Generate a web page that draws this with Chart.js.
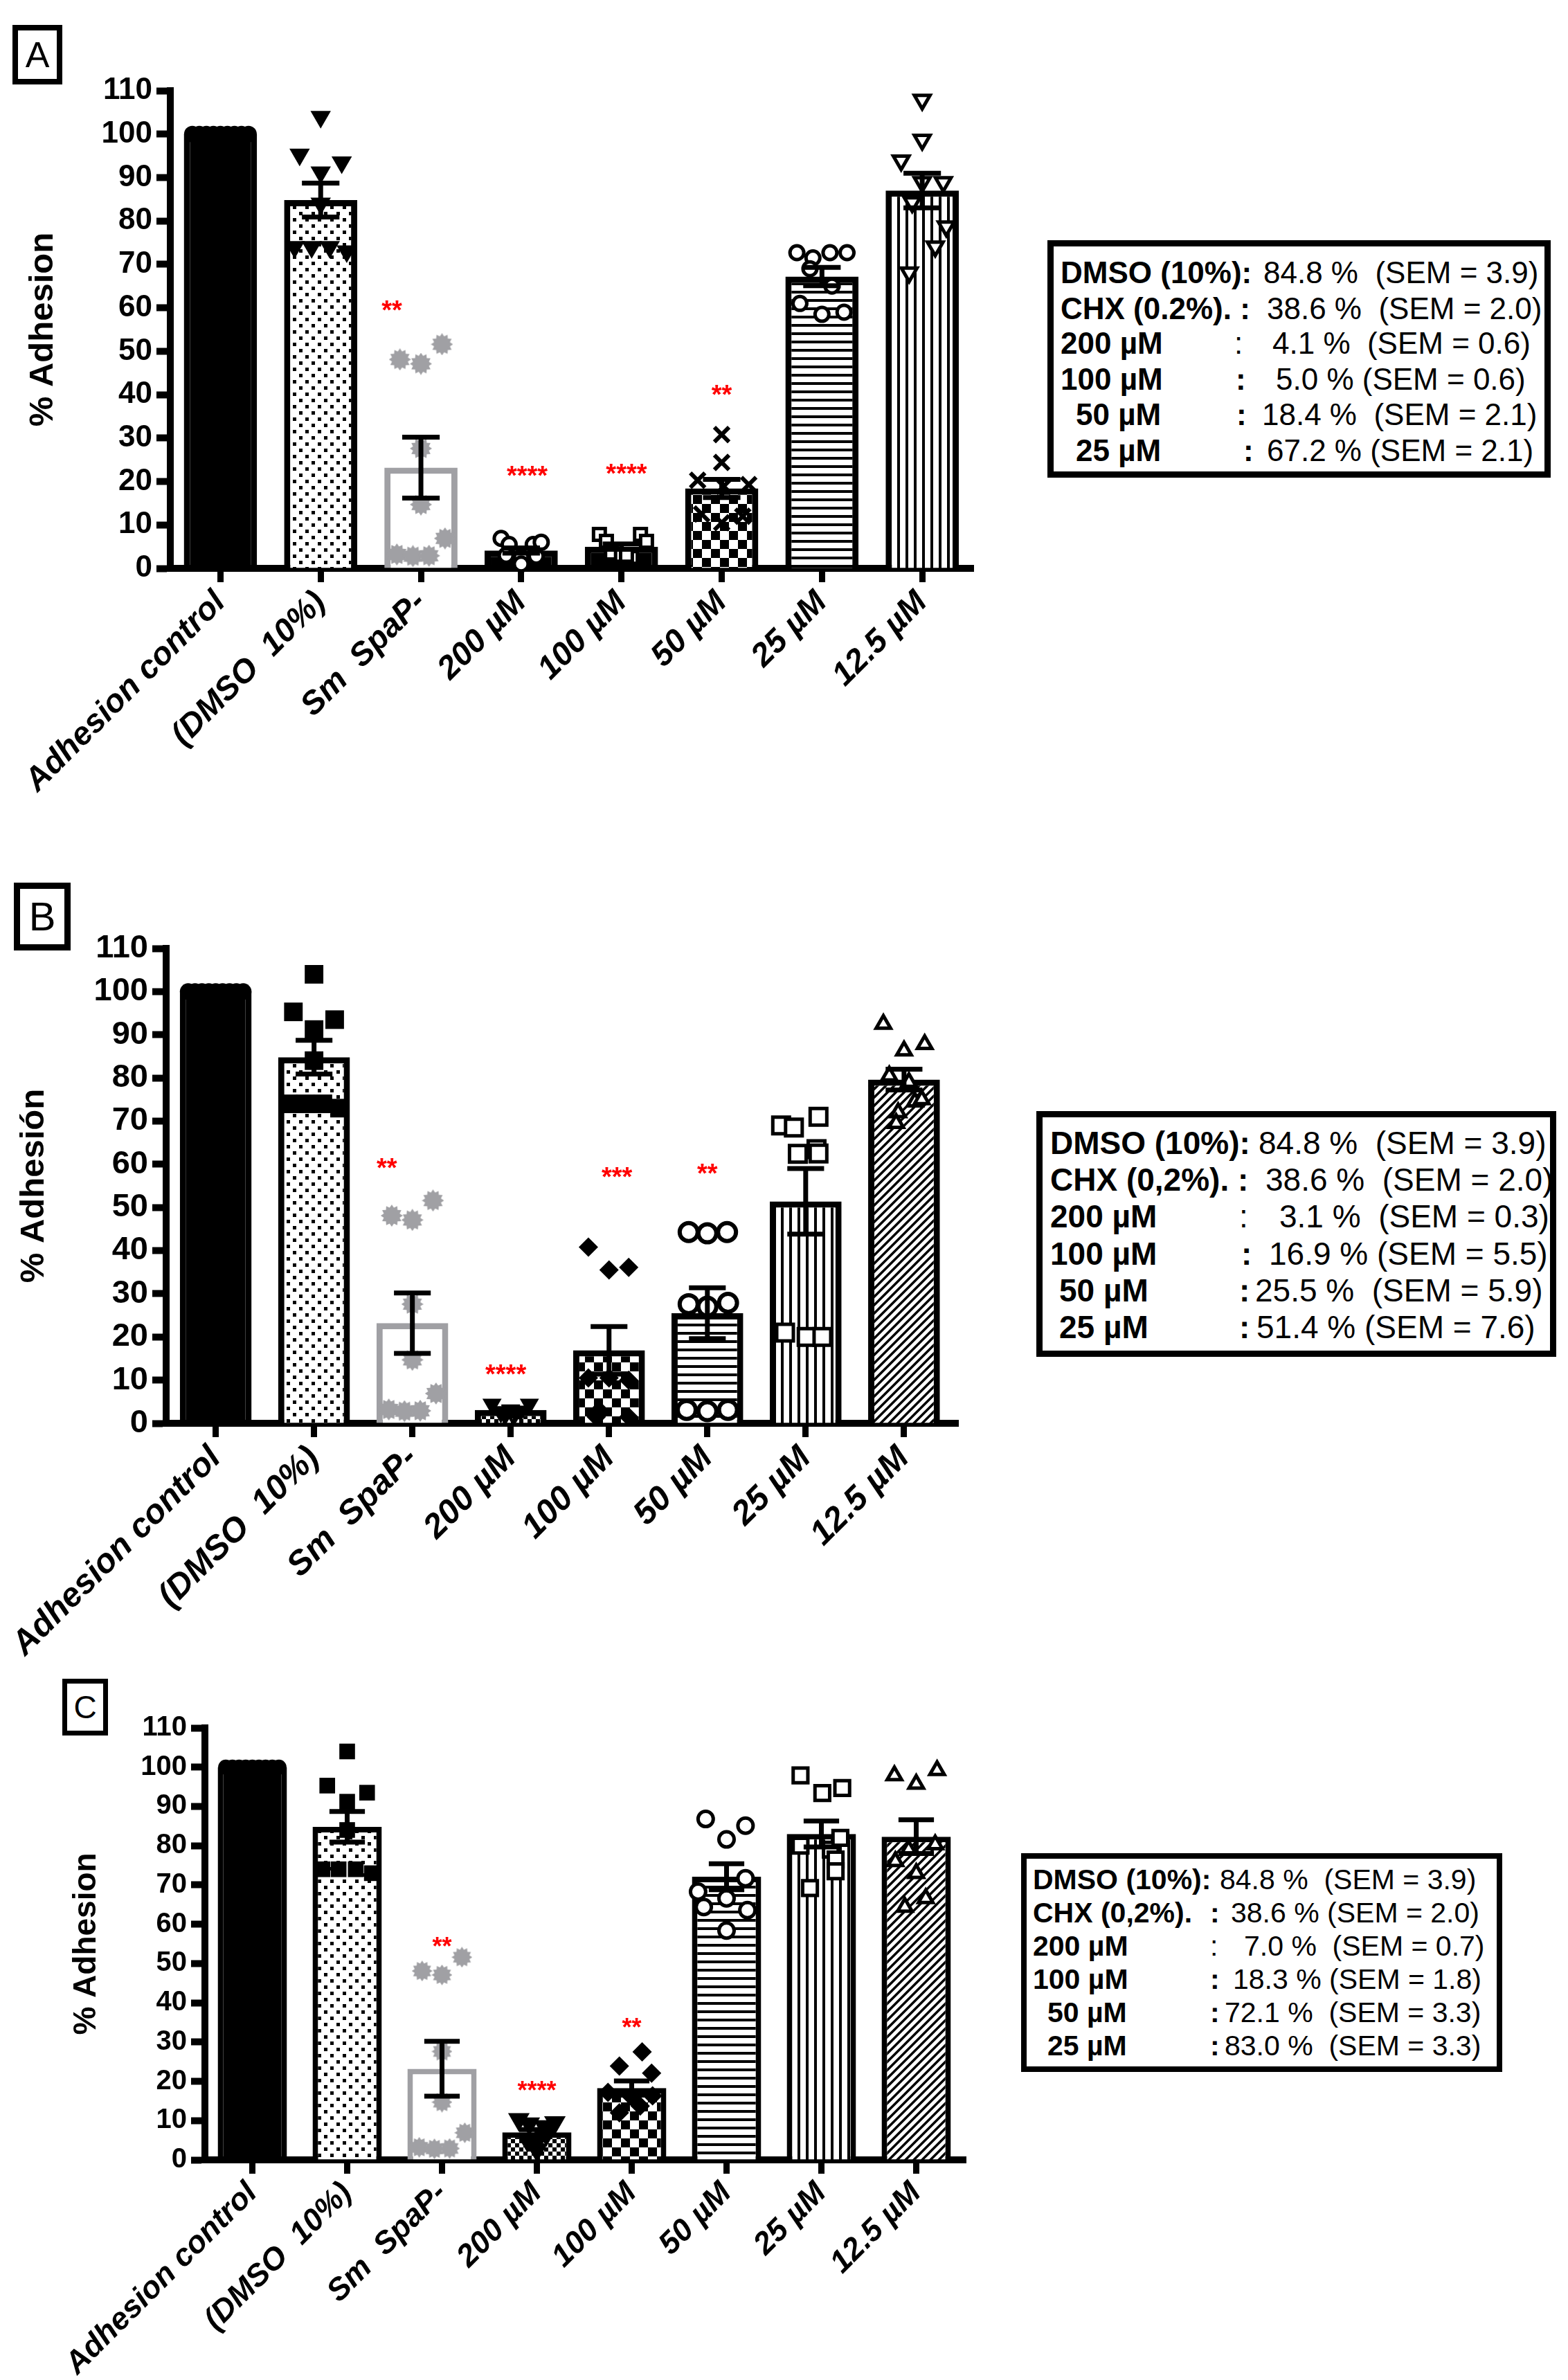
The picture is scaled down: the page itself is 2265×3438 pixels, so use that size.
<!DOCTYPE html>
<html>
<head>
<meta charset="utf-8">
<script src="https://cdn.jsdelivr.net/npm/chart.js@4.4.1/dist/chart.umd.min.js"></script>
<style>
  body { margin:0; background:#fff; width:2265px; height:3438px; position:relative; overflow:hidden;
         font-family:'Liberation Sans', Arial, sans-serif; color:#000; }
  canvas { position:absolute; left:0; }
  .tag { position:absolute; box-sizing:border-box; border:8px solid #000; display:flex;
         align-items:center; justify-content:center; line-height:1; }
  .box { position:absolute; box-sizing:border-box; border:9px solid #000; background:#fff; }
  .box span { position:absolute; white-space:pre; line-height:1; }
  .box .b { font-weight:bold; }
</style>
</head>
<body>

<div class="tag" style="left:18px;top:36px;width:72px;height:86px;font-size:52px">A</div>
<div class="tag" style="left:20px;top:1275px;width:82px;height:98px;border-width:9px;font-size:58px">B</div>
<div class="tag" style="left:90px;top:2425px;width:66px;height:82px;border-width:7px;font-size:46px">C</div>

<canvas id="chartA" width="1460" height="1170" style="top:0px"></canvas>
<canvas id="chartB" width="1460" height="1180" style="top:1240px"></canvas>
<canvas id="chartC" width="1460" height="1038" style="top:2400px"></canvas>

<div class="box" style="left:1513px;top:347px;width:727px;height:343px;font-size:44px">
  <span class="b" style="left:10px;top:16px">DMSO (10%):</span><span style="left:303px;top:16px">84.8 %  (SEM = 3.9)</span>
  <span class="b" style="left:10px;top:68px">CHX (0.2%). :</span><span style="left:308px;top:68px">38.6 %  (SEM = 2.0)</span>
  <span class="b" style="left:10px;top:118px">200 µM</span><span style="left:261px;top:118px">:</span><span style="left:316px;top:118px">4.1 %  (SEM = 0.6)</span>
  <span class="b" style="left:10px;top:170px">100 µM</span><span class="b" style="left:263px;top:170px">:</span><span style="left:321px;top:170px">5.0 % (SEM = 0.6)</span>
  <span class="b" style="left:32px;top:221px">50 µM</span><span class="b" style="left:264px;top:221px">:</span><span style="left:301px;top:221px">18.4 %  (SEM = 2.1)</span>
  <span class="b" style="left:32px;top:273px">25 µM</span><span class="b" style="left:274px;top:273px">:</span><span style="left:308px;top:273px">67.2 % (SEM = 2.1)</span>
</div>

<div class="box" style="left:1497px;top:1605px;width:751px;height:355px;font-size:46px">
  <span class="b" style="left:11px;top:14px">DMSO (10%):</span><span style="left:312px;top:14px">84.8 %  (SEM = 3.9)</span>
  <span class="b" style="left:11px;top:67px">CHX (0,2%). :</span><span style="left:322px;top:67px">38.6 %  (SEM = 2.0)</span>
  <span class="b" style="left:11px;top:120px">200 µM</span><span style="left:284px;top:120px">:</span><span style="left:342px;top:120px">3.1 %  (SEM = 0.3)</span>
  <span class="b" style="left:11px;top:174px">100 µM</span><span class="b" style="left:287px;top:174px">:</span><span style="left:327px;top:174px">16.9 % (SEM = 5.5)</span>
  <span class="b" style="left:24px;top:227px">50 µM</span><span class="b" style="left:284px;top:227px">:</span><span style="left:307px;top:227px">25.5 %  (SEM = 5.9)</span>
  <span class="b" style="left:24px;top:280px">25 µM</span><span class="b" style="left:284px;top:280px">:</span><span style="left:309px;top:280px">51.4 % (SEM = 7.6)</span>
</div>

<div class="box" style="left:1475px;top:2677px;width:695px;height:316px;border-width:8px;font-size:41px">
  <span class="b" style="left:9px;top:10px">DMSO (10%):</span><span style="left:279px;top:10px">84.8 %  (SEM = 3.9)</span>
  <span class="b" style="left:9px;top:58px">CHX (0,2%).</span><span class="b" style="left:265px;top:58px">:</span><span style="left:295px;top:58px">38.6 % (SEM = 2.0)</span>
  <span class="b" style="left:9px;top:106px">200 µM</span><span style="left:265px;top:106px">:</span><span style="left:314px;top:106px">7.0 %  (SEM = 0.7)</span>
  <span class="b" style="left:9px;top:154px">100 µM</span><span class="b" style="left:265px;top:154px">:</span><span style="left:298px;top:154px">18.3 % (SEM = 1.8)</span>
  <span class="b" style="left:30px;top:202px">50 µM</span><span class="b" style="left:265px;top:202px">:</span><span style="left:286px;top:202px">72.1 %  (SEM = 3.3)</span>
  <span class="b" style="left:30px;top:250px">25 µM</span><span class="b" style="left:265px;top:250px">:</span><span style="left:286px;top:250px">83.0 %  (SEM = 3.3)</span>
</div>

<script>
// ---- data ----
const categories = ['Adhesion control', '(DMSO  10%)', 'Sm  SpaP-', '200 µM', '100 µM', '50 µM', '25 µM', '12.5 µM'];
const yTicks = [0, 10, 20, 30, 40, 50, 60, 70, 80, 90, 100, 110];

// groups shared by the three panels
const ctrlPts = [100, 100, 100, 100, 100, 100, 100, 100, 100];
const ctrlSpread = [-0.28, -0.21, -0.14, -0.07, 0, 0.07, 0.14, 0.21, 0.28];
const dmsoPts = [104, 95.3, 93.5, 91.2, 84, 74, 74, 74, 73];
const dmsoSpread = [0, -0.21, 0.21, 0, 0, -0.26, -0.09, 0.09, 0.26];
const spapPts = [48.1, 47.1, 51.6, 27.6, 14.7, 6.9, 3.2, 2.8, 2.9];
const spapSpread = [-0.21, 0, 0.21, 0, 0, 0.24, -0.24, -0.08, 0.08];

// panel A
const meansA = [100, 84.8, 23.2, 4.1, 5.0, 18.4, 67.2, 87.0];
const semA = [0, 3.9, 7.0, 0.6, 0.6, 2.1, 2.1, 4.0];
const a200 = [6.9, 5.5, 5.5, 6.0, 3.0, 2.5, 2.8, 1.0];
const a200Spread = [-0.2, -0.12, 0.12, 0.2, -0.15, 0, 0.15, 0];
const a100 = [7.8, 6.2, 7.8, 6.2, 3.5, 3, 2.5, 3];
const a100Spread = [-0.22, -0.15, 0.19, 0.25, -0.1, 0, 0.1, 0.05];
const a50 = [30.8, 24.4, 20.3, 19.3, 18.9, 12.5, 12, 10.5];
const a50Spread = [0, 0, -0.24, 0.27, 0.02, -0.2, 0.21, 0];
const a25 = [72.7, 71.5, 72.7, 72.7, 69, 65, 61, 58.5, 59];
const a25Spread = [-0.25, -0.09, 0.08, 0.25, -0.12, 0.1, -0.22, 0, 0.22];
const a12 = [107.9, 98.7, 93.9, 88.9, 88.9, 84.3, 78.7, 74.1, 68.1];
const a12Spread = [0, 0, -0.21, 0, 0.21, -0.1, 0.24, 0.13, -0.13];
const starsA = ['', '', '**', '****', '****', '**', '', ''];
const starYA = [0, 0, 60.8, 22.7, 23.2, 41.4, 0, 0];
const starShiftA = [0, 0, -0.29, 0.06, 0.05, 0, 0, 0];

// panel B
const meansB = [100, 84.8, 23.2, 3.1, 16.9, 25.5, 51.4, 79.6];
const semB = [0, 3.9, 7.0, 0.3, 5.5, 5.9, 7.6, 2.4];
const b200 = [4.4, 3.1, 4.4, 2.5, 2.8, 2.2, 2.5, 2.9];
const b200Spread = [-0.19, 0, 0.19, -0.1, 0.1, -0.05, 0.05, 0];
const b100 = [40.8, 35.5, 36.1, 10.5, 10.5, 10, 3, 1.5, 1.5];
const b100Spread = [-0.21, 0, 0.2, -0.21, 0, 0.2, -0.1, -0.13, 0.2];
const b50 = [44.3, 44, 44.3, 27.6, 27, 27.9, 3.1, 2.8, 3.1];
const b50Spread = [-0.19, 0, 0.2, -0.19, 0, 0.21, -0.21, 0, 0.21];
const b25 = [69, 68.5, 71, 62.4, 63.5, 62.5, 21, 20, 20];
const b25Spread = [-0.25, -0.12, 0.13, -0.08, 0.11, 0.13, -0.21, 0.01, 0.17];
const b12 = [92.5, 86.3, 87.8, 80.5, 79, 74.5, 72, 69.5, 75];
const b12Spread = [-0.21, 0, 0.21, -0.15, 0.05, 0.11, -0.06, -0.08, 0.18];
const starsB = ['', '', '**', '****', '***', '**', '', ''];
const starYB = [0, 0, 60.5, 12.7, 58.5, 59.2, 0, 0];
const starShiftB = [0, 0, -0.26, -0.05, 0.08, 0, 0, 0];

// panel C
const meansC = [100, 84.8, 23.2, 7.0, 18.3, 72.1, 83.0, 82.3];
const semC = [0, 3.9, 7.0, 0.7, 1.8, 3.3, 3.3, 4.3];
const c200 = [10.3, 9.5, 9.2, 8.5, 4.7, 5, 6.5, 2.5];
const c200Spread = [-0.19, 0.19, -0.08, 0.08, 0, -0.1, 0.1, 0];
const c100 = [27.5, 23.9, 22.1, 17.2, 16.3, 16, 13.7, 12];
const c100Spread = [0.11, -0.13, 0.21, -0.25, 0.22, 0, 0.09, -0.13];
const c50 = [86.8, 85.1, 81.6, 68.3, 71.7, 64.4, 66.6, 63.6, 58.4];
const c50Spread = [-0.22, 0.2, 0, -0.3, 0.2, -0.24, 0, 0.22, 0];
const c25 = [97.9, 93.4, 94.7, 80, 79, 76.5, 73.5, 69.2, 82];
const c25Spread = [-0.22, 0.01, 0.22, -0.22, 0.1, 0.15, 0.15, -0.12, 0.2];
const c12 = [97.9, 99.2, 95.7, 76, 73, 64.4, 66.6, 79, 80.3];
const c12Spread = [-0.23, 0.22, 0, -0.22, 0, -0.12, 0.1, -0.08, 0.2];
const starsC = ['', '', '**', '****', '**', '', '', ''];
const starYC = [0, 0, 55.8, 19.1, 35.2, 0, 0, 0];
const starShiftC = [0, 0, 0, 0, 0, 0, 0, 0];

// ---- styling helpers ----
const FONT = "'Liberation Sans', Arial, sans-serif";
const GREY = '#a0a0a4';
Chart.defaults.font.family = FONT;
Chart.defaults.color = '#000';

function tile(w, h, draw) {
  const c = document.createElement('canvas');
  c.width = w; c.height = h;
  const g = c.getContext('2d');
  g.fillStyle = '#fff'; g.fillRect(0, 0, w, h);
  g.fillStyle = '#000'; g.strokeStyle = '#000';
  draw(g, w, h);
  return c;
}

function makeFill(ctx, kind) {
  let t;
  switch (kind) {
    case 'solid': return '#000';
    case 'white': return '#fff';
    case 'dots': t = tile(18, 18, g => { g.fillRect(0, 0, 5, 5); g.fillRect(9, 9, 5, 5); }); break;
    case 'checker': t = tile(26, 26, g => { g.fillRect(0, 0, 13, 13); g.fillRect(13, 13, 13, 13); }); break;
    case 'fineChecker': t = tile(12, 12, g => { g.fillRect(0, 0, 6, 6); g.fillRect(6, 6, 6, 6); }); break;
    case 'hlines': t = tile(12, 12, g => { g.fillRect(0, 0, 12, 4); }); break;
    case 'vlines': t = tile(12, 12, g => { g.fillRect(0, 0, 4, 12); }); break;
    case 'diag': t = tile(12, 12, g => {
      g.lineWidth = 3.5;
      g.beginPath();
      g.moveTo(-6, 6); g.lineTo(6, -6);
      g.moveTo(0, 12); g.lineTo(12, 0);
      g.moveTo(6, 18); g.lineTo(18, 6);
      g.stroke();
    }); break;
  }
  return ctx.createPattern(t, 'repeat');
}

function burst(size) {
  const c = document.createElement('canvas');
  c.width = size; c.height = size;
  const g = c.getContext('2d');
  const r = size / 2, n = 12;
  g.fillStyle = GREY;
  g.beginPath();
  for (let k = 0; k < n * 2; k++) {
    const a = k * Math.PI / n;
    const rr = k % 2 ? r * 0.74 : r;
    g.lineTo(r + Math.cos(a) * rr, r + Math.sin(a) * rr);
  }
  g.closePath();
  g.fill();
  return c;
}

function marker(kind, r, bw) {
  switch (kind) {
    case 'circleFilled': return { style: 'circle', r, fill: '#000', line: '#000', bw: 0 };
    case 'circleOpen': return { style: 'circle', r, fill: '#fff', line: '#000', bw };
    case 'squareFilled': return { style: 'rect', r, fill: '#000', line: '#000', bw: 0 };
    case 'squareOpen': return { style: 'rect', r, fill: '#fff', line: '#000', bw };
    case 'diamondFilled': return { style: 'rectRot', r, fill: '#000', line: '#000', bw: 0 };
    case 'triDownFilled': return { style: 'triangle', rot: 180, r, fill: '#000', line: '#000', bw: 0 };
    case 'triDownOpen': return { style: 'triangle', rot: 180, r, fill: '#fff', line: '#000', bw };
    case 'triUpOpen': return { style: 'triangle', r, fill: '#fff', line: '#000', bw };
    case 'cross': return { style: 'crossRot', r, fill: '#000', line: '#000', bw };
    case 'burst': return { style: burst(r * 2), r, fill: GREY, line: GREY, bw: 0 };
  }
}

// error bars and significance stars, positioned through the chart scales
const errorBars = {
  id: 'errorBars',
  afterDatasetsDraw(chart, args, o) {
    const { ctx, scales: { x, y } } = chart;
    ctx.save();
    ctx.strokeStyle = '#000';
    ctx.lineWidth = o.lineWidth;
    o.means.forEach((m, i) => {
      const s = o.sems[i];
      if (!s) return;
      const px = x.getPixelForValue(i);
      const half = x.getPixelForValue(i + o.cap) - px;
      const top = y.getPixelForValue(m + s), bot = y.getPixelForValue(m - s);
      ctx.beginPath();
      ctx.moveTo(px, top); ctx.lineTo(px, bot);
      ctx.moveTo(px - half, top); ctx.lineTo(px + half, top);
      ctx.moveTo(px - half, bot); ctx.lineTo(px + half, bot);
      ctx.stroke();
    });
    const size = o.starSize;
    ctx.font = 'bold ' + size + 'px ' + FONT;
    ctx.fillStyle = '#ff0000';
    ctx.textAlign = 'center';
    ctx.textBaseline = 'alphabetic';
    o.stars.forEach((t, i) => {
      if (!t) return;
      ctx.fillText(t, x.getPixelForValue(i + o.starShift[i]), y.getPixelForValue(o.starY[i]) + size * 0.57);
    });
    ctx.restore();
  }
};

function buildPanel(id, p) {
  const ctx = document.getElementById(id).getContext('2d');
  const L = p.layout;
  const datasets = [{
    type: 'bar',
    order: 2,
    data: p.means.map((v, i) => ({ x: i, y: v })),
    backgroundColor: p.fills.map(k => makeFill(ctx, k)),
    borderColor: p.fills.map(k => k === 'white' ? GREY : '#000'),
    borderWidth: L.barBorder,
    borderSkipped: 'start',
    barPercentage: 0.73,
    categoryPercentage: 1
  }];
  p.points.forEach((vals, i) => {
    const m = p.markers[i];
    datasets.push({
      type: 'scatter',
      order: 1,
      clip: false,
      data: vals.map((v, j) => ({ x: i + p.spread[i][j], y: v })),
      pointStyle: m.style,
      pointRadius: m.r,
      pointRotation: m.rot || 0,
      pointBackgroundColor: m.fill,
      pointBorderColor: m.line,
      pointBorderWidth: m.bw
    });
  });

  new Chart(ctx, {
    type: 'bar',
    data: { datasets },
    plugins: [errorBars],
    options: {
      responsive: false,
      animation: false,
      devicePixelRatio: 1,
      events: [],
      layout: { padding: { left: 0, top: L.top, right: L.right, bottom: 0 } },
      plugins: {
        legend: { display: false },
        tooltip: { enabled: false },
        errorBars: { means: p.means, sems: p.sems, cap: 0.187, lineWidth: 7,
                     stars: p.stars, starY: p.starY, starShift: p.starShift, starSize: L.starSize }
      },
      scales: {
        x: {
          type: 'linear',
          min: L.xMin, max: L.xMax,
          offset: false,
          afterBuildTicks: s => { s.ticks = categories.map((c, i) => ({ value: i })); },
          afterFit: s => { s.height = L.xAxisH; },
          ticks: {
            callback: v => categories[v],
            autoSkip: false, minRotation: 45, maxRotation: 45, padding: 2,
            font: { size: L.xFont, weight: 'bold', style: 'italic' }, color: '#000'
          },
          grid: { display: true, offset: false, drawOnChartArea: false, drawTicks: true,
                  tickLength: 20, tickWidth: 9, tickColor: '#000' },
          border: { display: true, color: '#000', width: 10 }
        },
        y: {
          min: 0, max: 110,
          afterBuildTicks: s => { s.ticks = yTicks.map(v => ({ value: v })); },
          afterFit: s => { s.width = L.yAxisW; },
          ticks: { padding: 6, font: { size: L.yFont, weight: 'bold' }, color: '#000' },
          grid: { display: true, drawOnChartArea: false, drawTicks: true,
                  tickLength: 20, tickWidth: 10, tickColor: '#000' },
          border: { display: true, color: '#000', width: 10 },
          title: { display: true, text: p.title, color: '#000',
                   font: { size: L.titleFont, weight: 'bold' }, padding: { top: L.titlePad, bottom: 0 } }
        }
      }
    }
  });
}

buildPanel('chartA', {
  title: '% Adhesion',
  means: meansA, sems: semA,
  points: [ctrlPts, dmsoPts, spapPts, a200, a100, a50, a25, a12],
  spread: [ctrlSpread, dmsoSpread, spapSpread, a200Spread, a100Spread, a50Spread, a25Spread, a12Spread],
  fills: ['solid', 'dots', 'white', 'solid', 'solid', 'checker', 'hlines', 'vlines'],
  markers: [marker('circleFilled', 12), marker('triDownFilled', 17), marker('burst', 16),
            marker('circleOpen', 10, 5), marker('squareOpen', 12, 5), marker('cross', 15, 6),
            marker('circleOpen', 10, 5), marker('triDownOpen', 13, 5)],
  stars: starsA, starY: starYA, starShift: starShiftA,
  layout: { top: 131, right: 54, yAxisW: 246, xAxisH: 349, xMin: -0.5, xMax: 7.51,
            barBorder: 9, xFont: 47, yFont: 44, titleFont: 49, titlePad: 33, starSize: 38 }
});

buildPanel('chartB', {
  title: '% Adhesión',
  means: meansB, sems: semB,
  points: [ctrlPts, dmsoPts, spapPts, b200, b100, b50, b25, b12],
  spread: [ctrlSpread, dmsoSpread, spapSpread, b200Spread, b100Spread, b50Spread, b25Spread, b12Spread],
  fills: ['solid', 'dots', 'white', 'fineChecker', 'checker', 'hlines', 'vlines', 'diag'],
  markers: [marker('circleFilled', 12), marker('squareFilled', 19), marker('burst', 16),
            marker('triDownFilled', 16), marker('diamondFilled', 14), marker('circleOpen', 13, 6),
            marker('squareOpen', 17, 5), marker('triUpOpen', 12, 5)],
  stars: starsB, starY: starYB, starShift: starShiftB,
  layout: { top: 130, right: 76, yAxisW: 240, xAxisH: 364, xMin: -0.504, xMax: 7.55,
            barBorder: 9, xFont: 49, yFont: 47, titleFont: 49, titlePad: 20, starSize: 38 }
});

buildPanel('chartC', {
  title: '% Adhesion',
  means: meansC, sems: semC,
  points: [ctrlPts, dmsoPts, spapPts, c200, c100, c50, c25, c12],
  spread: [ctrlSpread, dmsoSpread, spapSpread, c200Spread, c100Spread, c50Spread, c25Spread, c12Spread],
  fills: ['solid', 'dots', 'white', 'fineChecker', 'checker', 'hlines', 'vlines', 'diag'],
  markers: [marker('circleFilled', 11), marker('squareFilled', 16), marker('burst', 15),
            marker('triDownFilled', 18), marker('diamondFilled', 14), marker('circleOpen', 11, 5),
            marker('squareOpen', 15, 5), marker('triUpOpen', 12, 5)],
  stars: starsC, starY: starYC, starShift: starShiftC,
  layout: { top: 96, right: 65, yAxisW: 296, xAxisH: 318, xMin: -0.5, xMax: 7.522,
            barBorder: 8, xFont: 45, yFont: 40, titleFont: 46, titlePad: 98, starSize: 36 }
});
</script>
</body>
</html>
